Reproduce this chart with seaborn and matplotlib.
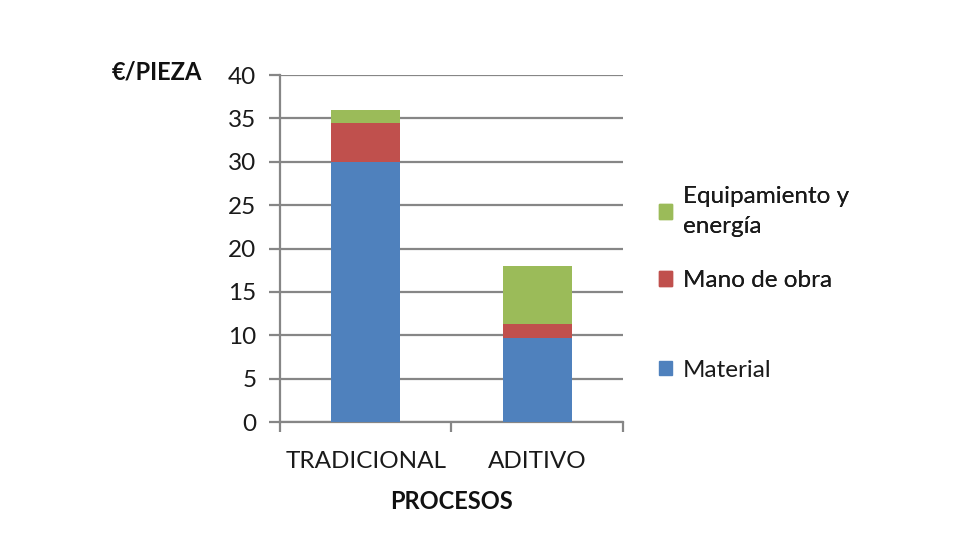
import numpy as np
import pandas as pd
import seaborn as sns
import matplotlib.pyplot as plt
from matplotlib.patches import Patch

procesos = ['TRADICIONAL', 'ADITIVO']
material = [30.0, 9.7]
mano_obra = [4.5, 1.6]
equipamiento = [1.5, 6.7]

sns.set_theme(style='white')
plt.rcParams['font.family'] = ['Lato', 'DejaVu Sans']

azul = '#4F81BD'
rojo = '#C0504D'
verde = '#9BBB59'
gris = '#868686'

df = pd.DataFrame({'proceso': procesos,
                   'material': material,
                   'mano': mano_obra,
                   'equipo': equipamiento})
# stacked by drawing cumulative totals back to front
df['total'] = df['material'] + df['mano'] + df['equipo']
df['mat_mano'] = df['material'] + df['mano']

fig = plt.figure(figsize=(9.8, 5.6), dpi=100)
ax = fig.add_axes([0.2857, 0.2464, 0.35, 0.6196])

for col, c in [('total', verde), ('mat_mano', rojo), ('material', azul)]:
    sns.barplot(data=df, x='proceso', y=col, color=c, width=0.4,
                saturation=1, linewidth=0, ax=ax, zorder=3)

ax.set_ylim(0, 40)
ax.set_xlim(-0.5, 1.5)
ax.set_yticks(np.arange(0, 41, 5))
ax.yaxis.grid(True, color=gris, linewidth=1.6, zorder=0)
ax.set_axisbelow(True)

for s in ['top', 'right']:
    ax.spines[s].set_visible(False)
for s in ['left', 'bottom']:
    ax.spines[s].set_color(gris)
    ax.spines[s].set_linewidth(1.6)

ax.tick_params(axis='y', which='major', direction='out', length=8,
               width=1.6, color=gris, labelsize=17.5, labelcolor='#1a1a1a',
               pad=9, left=True)
ax.set_xticks([-0.5, 0.5, 1.5], minor=True)
ax.tick_params(axis='x', which='major', length=0, labelsize=17.5,
               labelcolor='#1a1a1a', pad=21)
ax.tick_params(axis='x', which='minor', direction='out', length=7,
               width=1.6, color=gris, bottom=True)

ax.set_xlabel('')
ax.set_ylabel('')
fig.text(0.114, 0.872, '€/PIEZA', fontsize=17, fontweight='bold',
         ha='left', va='center', color='#111111')
fig.text(0.461, 0.105, 'PROCESOS', fontsize=17, fontweight='bold',
         ha='center', va='center', color='#111111')

leg1 = fig.legend(handles=[Patch(color=verde, label='Equipamiento y\nenergía'),
                           Patch(color=rojo, label='Mano de obra')],
                  loc='upper left', bbox_to_anchor=(0.672, 0.668),
                  frameon=False, fontsize=17.5, handlelength=0.55,
                  handleheight=0.55, handletextpad=0.45, labelspacing=1.35,
                  borderaxespad=0, borderpad=0, labelcolor='#1a1a1a')
for t in leg1.get_texts():
    t.set_linespacing(1.55)
leg2 = fig.legend(handles=[Patch(color=azul, label='Material')],
                  loc='upper left', bbox_to_anchor=(0.672, 0.358),
                  frameon=False, fontsize=17.5, handlelength=0.55,
                  handleheight=0.55, handletextpad=0.45,
                  borderaxespad=0, borderpad=0, labelcolor='#1a1a1a')
fig.add_artist(leg1)

fig.savefig('out.png', dpi=100)
